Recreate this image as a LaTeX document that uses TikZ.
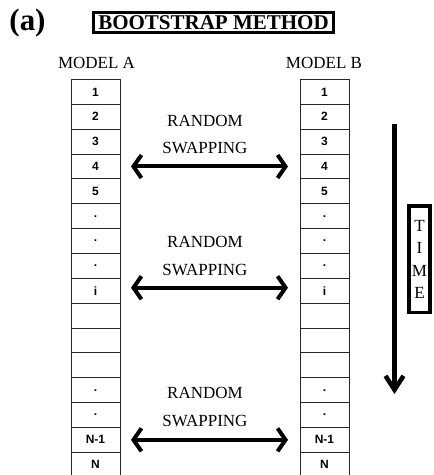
\documentclass[tikz,border=0pt]{standalone}
\usepackage{fontspec}
\setmainfont{Liberation Serif}
\newfontfamily\cellfont{Liberation Sans}
\usetikzlibrary{arrows.meta}
\begin{document}
\begin{tikzpicture}[x=1pt,y=-1pt,
  cell/.style={draw=black!85, line width=0.9pt, minimum width=49pt, minimum height=24.85pt,
    inner sep=0pt, outer sep=0pt, font=\cellfont\bfseries\fontsize{12}{14}\selectfont},
  swaparrow/.style={line width=4pt, <->, >={Straight Barb[length=8pt,width=23pt]},
    shorten <=11pt, shorten >=12pt},
  timearrow/.style={line width=4.5pt, ->, >={Straight Barb[length=14pt,width=18pt]}},
  lbl/.style={font=\fontsize{17}{27.5}\selectfont, align=center, inner sep=0pt},
  modellbl/.style={font=\fontsize{17}{20}\selectfont, inner sep=0pt},
  titlebox/.style={draw, line width=3pt, minimum width=240pt, minimum height=20pt, inner sep=0pt,
    font=\bfseries\fontsize{21}{24}\selectfont},
  timebox/.style={draw, line width=3.5pt, minimum width=21pt, minimum height=106.5pt, inner sep=0pt,
    align=center, font=\fontsize{17}{22.5}\selectfont}
]
\useasboundingbox (0,0) rectangle (434,475);
\fill[white] (0,0) rectangle (434,475);

\node[inner sep=0pt, font=\bfseries\fontsize{31}{34}\selectfont] (tag) at (27.5,23.5) {(a)};
\node[titlebox] (title) at (213.5,22.5) {BOOTSTRAP METHOD};

\node[modellbl] (ma) at (96.5,63) {MODEL A};
\node[modellbl] (mb) at (324,63) {MODEL B};

\foreach \lab [count=\k from 0] in {1,2,3,4,5,.,.,.,i,{},{},{},.,.,N-1,N} {
  \node[cell] (a\k) at (95.5,{79.5+24.85*\k+12.425}) {\lab};
  \node[cell] (b\k) at (324.5,{79.5+24.85*\k+12.425}) {\lab};
}

\node[lbl] (r1) at (205,134.5) {RANDOM\\SWAPPING};
\node[lbl] (r2) at (205,256) {RANDOM\\SWAPPING};
\node[lbl] (r3) at (205,407) {RANDOM\\SWAPPING};

\draw[swaparrow] (a3.east) -- (b3.west);
\draw[swaparrow] ([yshift=3pt]a8.east) -- ([yshift=3pt]b8.west);
\draw[swaparrow] (a14.east) -- (b14.west);

\coordinate (ttop) at (394.5,124);
\coordinate (tbot) at (394.5,394);
\draw[timearrow] (ttop) -- (tbot);

\node[timebox] (time) at (419.5,259.3) {T\\I\\M\\E};
\end{tikzpicture}
\end{document}
